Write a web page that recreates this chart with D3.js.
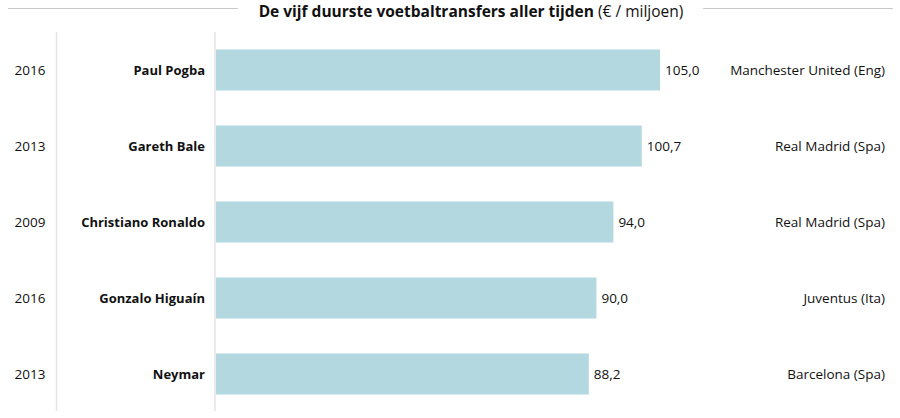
<!DOCTYPE html>
<html>
<head>
<meta charset="utf-8">
<script src="https://cdn.jsdelivr.net/npm/d3@7"></script>
<style>
  body { margin: 0; background: #fff; }
  svg text { font-family: "Open Sans", "Noto Sans", sans-serif; fill: #111; }
</style>
</head>
<body>
<div id="wrapper"></div>
<script>
// data
const players = ["Paul Pogba", "Gareth Bale", "Christiano Ronaldo", "Gonzalo Higuaín", "Neymar"]
const years = ["2016", "2013", "2009", "2016", "2013"]
const fees = [105.0, 100.7, 94.0, 90.0, 88.2]
const clubs = ["Manchester United (Eng)", "Real Madrid (Spa)", "Real Madrid (Spa)", "Juventus (Ita)", "Barcelona (Spa)"]

function drawTransfers() {
  const width = 900
  const height = 418
  const fmt = v => v.toFixed(1).replace(".", ",")

  const svg = d3.select("#wrapper")
    .append("svg")
      .attr("width", width)
      .attr("height", height)

  // scales
  const xScale = d3.scaleLinear()
      .domain([0, 105])
      .range([215, 660])

  const yScale = d3.scaleBand()
      .domain(players)
      .range([32, 412])
      .paddingInner(0.46)
      .paddingOuter(0.23)

  // title with lines either side
  const title = svg.append("text")
      .attr("x", 471)
      .attr("y", 17)
      .attr("text-anchor", "middle")
      .style("font-size", "15.5px")
  title.append("tspan").attr("font-weight", "bold").text("De vijf duurste voetbaltransfers aller tijden ")
  title.append("tspan").text("(€ / miljoen)")

  svg.append("line").attr("x1", 8).attr("x2", 238).attr("y1", 8.5).attr("y2", 8.5)
    .attr("stroke", "#c8c8c8")
  svg.append("line").attr("x1", 703).attr("x2", 893).attr("y1", 8.5).attr("y2", 8.5)
    .attr("stroke", "#c8c8c8")

  // separators
  svg.selectAll(".sep")
    .data([56.5, 215])
    .join("line")
      .attr("x1", d => d).attr("x2", d => d)
      .attr("y1", 32).attr("y2", 411)
      .attr("stroke", "#e4e4e4")
      .attr("stroke-width", 1.5)

  // bars
  const rows = players.map((p, i) => ({player: p, year: years[i], fee: fees[i], club: clubs[i]}))

  svg.append("g").selectAll("rect")
    .data(rows)
    .join("rect")
      .attr("x", xScale(0) + 1)
      .attr("y", d => yScale(d.player))
      .attr("width", d => xScale(d.fee) - xScale(0) - 1)
      .attr("height", yScale.bandwidth())
      .attr("fill", "#b4d8df")

  const mid = d => yScale(d.player) + yScale.bandwidth() / 2

  svg.append("g").selectAll("text")
    .data(rows)
    .join("text")
      .attr("x", 30)
      .attr("y", mid)
      .attr("dy", "0.35em")
      .attr("text-anchor", "middle")
      .style("font-size", "13.5px")
      .text(d => d.year)

  svg.append("g").selectAll("text")
    .data(rows)
    .join("text")
      .attr("x", 205)
      .attr("y", mid)
      .attr("dy", "0.35em")
      .attr("text-anchor", "end")
      .attr("font-weight", "bold")
      .style("font-size", "13px")
      .text(d => d.player)

  svg.append("g").selectAll("text")
    .data(rows)
    .join("text")
      .attr("x", d => xScale(d.fee) + 5)
      .attr("y", mid)
      .attr("dy", "0.35em")
      .style("font-size", "13.5px")
      .text(d => fmt(d.fee))

  svg.append("g").selectAll("text")
    .data(rows)
    .join("text")
      .attr("x", 885)
      .attr("y", mid)
      .attr("dy", "0.35em")
      .attr("text-anchor", "end")
      .style("font-size", "13.5px")
      .text(d => d.club)
}

window.onload = function () {
  drawTransfers()
}
</script>
</body>
</html>
